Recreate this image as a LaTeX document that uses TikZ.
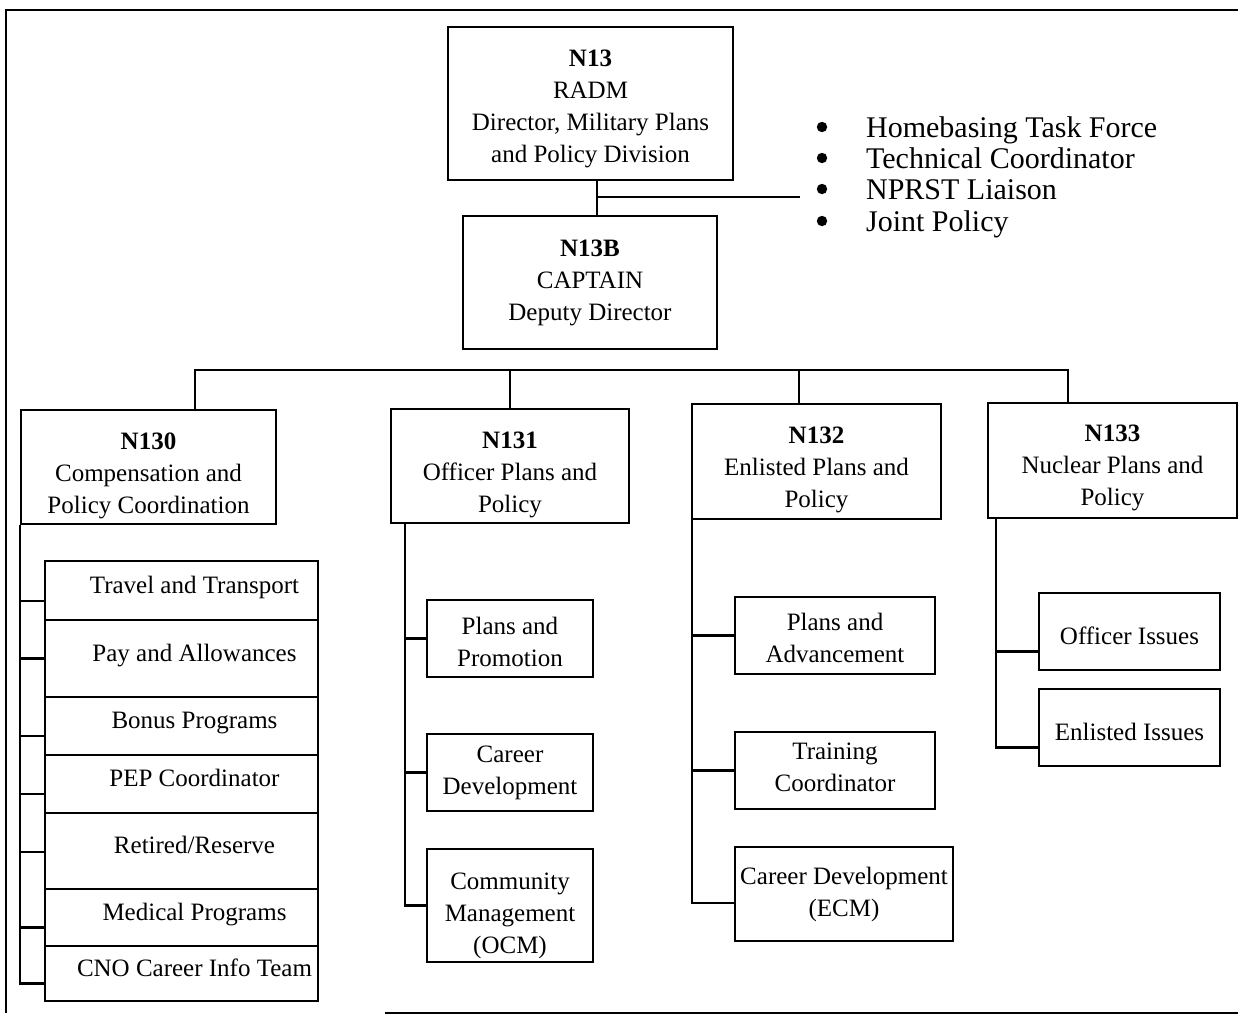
\documentclass[tikz,border=0pt]{standalone}
\usepackage{fontspec}
\setmainfont{Liberation Serif}
\newcommand\lift[1]{\rule{0pt}{#1}}
\newcommand\hd[2][34pt]{\lift{#1}\textbf{#2}}

\begin{document}
\begin{tikzpicture}[x=1pt,y=-1pt,line width=2.2pt,
  box/.style={draw,rectangle,inner sep=0pt,align=center,font=\fontsize{25}{32}\selectfont},
  bul/.style={anchor=base west,inner sep=0pt,font=\fontsize{30}{31}\selectfont}]
\useasboundingbox (0,0) rectangle (1238,1017);
% page frame
\draw (1238,10) -- (6,10) -- (6,1013);
\draw (385,1013) -- (1238,1013);

% top of the chart
\node[box,minimum width=285,minimum height=153] (n13) at (590.5,103.5) {\hd[27pt]{N13}\\RADM\\Director, Military Plans\\and Policy Division};
\node[box,minimum width=254,minimum height=133] (n13b) at (590,282.5) {\textbf{N13B}\\CAPTAIN\\Deputy Director};
\coordinate (d13) at ([xshift=6.5]n13.south);
\draw (d13) -- (d13 |- n13b.north);
\coordinate (side) at (800,197);
\draw (d13 |- side) -- (side);
\foreach \nm/\yb/\txt in {hbtf/137/Homebasing Task Force, tech/168/Technical Coordinator, liai/199/NPRST Liaison, jpol/231/Joint Policy}
{
  \fill (822,{\yb-10}) circle (5.2);
  \node[bul] (\nm) at (865,\yb) {\txt};
}

% branches
\node[box,minimum width=255,minimum height=114] (n130) at (148.5,467) {\hd{N130}\\Compensation and\\Policy Coordination};
\node[box,minimum width=238,minimum height=114] (n131) at (510,466) {\hd{N131}\\Officer Plans and\\Policy};
\node[box,minimum width=249,minimum height=115] (n132) at (816.5,461.5) {\hd{N132}\\Enlisted Plans and\\Policy};
\node[box,minimum width=249,minimum height=115] (n133) at (1112.5,460.5) {\hd[31pt]{N133}\\Nuclear Plans and\\Policy};
\coordinate (bus) at (0,371);
\draw ([xshift=46.5]n130.north) -- ++(0,-39) -| ([xshift=-44.5]n133.north);
\draw (n131.north) -- (n131.north |- bus);
\coordinate (d132) at ([xshift=-17.5]n132.north);
\draw (d132) -- (d132 |- bus);

% N130 sections
\foreach \nm/\ya/\yb/\dy/\txt in {trav/561/620/-10.5/Travel and Transport, pay/620/697/0/Pay and Allowances, bonus/697/755/-10/Bonus Programs, pep/755/813/-10/PEP Coordinator, retr/813/889/-1/{Retired/Reserve}, med/889/946/-10/Medical Programs, cno/946/1001/-10/CNO Career Info Team}
{
  \node[box,minimum width=273,minimum height=\yb-\ya,text height=17.5,text depth=12.5] (\nm) at (181.5,{(\ya+\yb)/2}) {\hspace*{26pt}\txt};
  \draw ([yshift=\dy]\nm.west) -- ++(-23,0);
}
\draw (n130.south west) |- ([yshift=-10]cno.west);

% N131 sections
\node[box,minimum width=166,minimum height=77] (ppromo) at (510,638.5) {\lift{25pt}Plans and\\Promotion};
\node[box,minimum width=166,minimum height=77] (cdev) at (510,772.5) {Career\\Development};
\node[box,minimum width=166,minimum height=113] (ocm) at (510,905.5) {\lift{37pt}Community\\Management\\(OCM)};
\foreach \k in {ppromo,cdev,ocm}
  \draw ([xshift=15]n131.south west) |- (\k.west);

% N132 sections
\node[box,minimum width=200,minimum height=77] (padv) at (835,635.5) {\lift{23pt}Plans and\\Advancement};
\node[box,minimum width=200,minimum height=77] (train) at (835,770.5) {Training\\Coordinator\rule[-6pt]{0pt}{0pt}};
\node[box,minimum width=218,minimum height=94] (ecm) at (844,894) {Career Development\\(ECM)};
\foreach \k/\dy in {padv/0,train/0,ecm/-9}
  \draw ([xshift=1]n132.south west) |- ([yshift=\dy]\k.west);

% N133 sections
\node[box,minimum width=181,minimum height=77,text height=31,text depth=5.5] (offi) at (1129.5,631.5) {Officer Issues};
\node[box,minimum width=181,minimum height=77,text height=31,text depth=5.5] (enli) at (1129.5,727.5) {Enlisted Issues};
\foreach \k in {offi,enli}
  \draw ([xshift=9]n133.south west) |- ([yshift=-20]\k.west);
\end{tikzpicture}
\end{document}
